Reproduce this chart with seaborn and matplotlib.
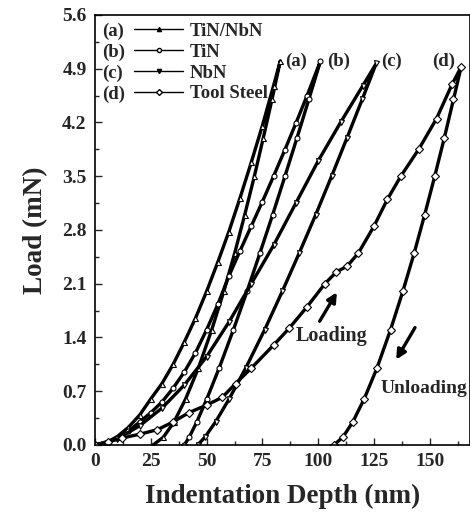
import pandas as pd
import matplotlib
matplotlib.use("Agg")
import matplotlib.pyplot as plt
import seaborn as sns
from matplotlib.lines import Line2D
from matplotlib.ticker import MultipleLocator

# Estilo limpo
sns.set_theme(style="ticks")
plt.rcParams['font.family'] = ['Liberation Serif', 'DejaVu Serif']
plt.rcParams['font.weight'] = 'bold'

# --- Dados (profundidade em nm, carga em mN) ---
tags = ['(a)', '(b)', '(c)', '(d)']
samples = ['TiN/NbN', 'TiN', 'NbN', 'Tool Steel']
markers = ['^', 'o', 'v', 'D']

# (a) TiN/NbN
a_load_depth = [0, 5, 10, 15, 20, 25, 30, 35, 40, 45, 50, 55, 60, 65, 70, 75, 80, 83]
a_load_force = [0.0, 0.03, 0.11, 0.23, 0.39, 0.6, 0.8, 1.05, 1.34, 1.65, 2.0, 2.38, 2.78, 3.22, 3.68, 4.16, 4.68, 5.0]
a_unload_depth = [83, 79.3, 75.4, 71.4, 67.1, 62.6, 57.7, 52.3, 46.3, 40.6, 35.4, 30.6, 26]
a_unload_force = [5.0, 4.5, 4.0, 3.5, 3.0, 2.5, 2.0, 1.5, 1.0, 0.6, 0.3, 0.1, 0.0]

# (b) TiN
b_load_depth = [0, 5, 10, 15, 20, 25, 30, 35, 40, 45, 50, 55, 60, 65, 70, 75, 80, 85, 90, 95, 101]
b_load_force = [0.0, 0.03, 0.09, 0.18, 0.3, 0.42, 0.56, 0.74, 0.95, 1.2, 1.5, 1.83, 2.2, 2.53, 2.85, 3.17, 3.5, 3.84, 4.19, 4.55, 5.0]
b_unload_depth = [101, 95.8, 90.5, 85.1, 79.6, 73.9, 68.1, 62.0, 55.6, 50.1, 45.6, 42.2, 40]
b_unload_force = [5.0, 4.5, 4.0, 3.5, 3.0, 2.5, 2.0, 1.5, 1.0, 0.6, 0.3, 0.1, 0.0]

# (c) NbN
c_load_depth = [0, 10, 20, 30, 40, 50, 60, 70, 80, 90, 100, 110, 120, 126]
c_load_force = [0.0, 0.08, 0.25, 0.48, 0.78, 1.15, 1.6, 2.1, 2.6, 3.15, 3.7, 4.2, 4.68, 4.97]
c_unload_depth = [126, 119.7, 112.9, 106.0, 98.9, 91.5, 83.9, 76.0, 67.5, 60.1, 54.0, 49.2, 46]
c_unload_force = [4.97, 4.5, 4.0, 3.5, 3.0, 2.5, 2.0, 1.5, 1.0, 0.6, 0.3, 0.1, 0.0]

# (d) Tool Steel
d_load_depth = [0, 6, 12, 20, 28, 35, 42, 50, 57, 63, 70, 80, 87, 95, 103, 108, 113, 118, 125, 131, 137, 145, 153, 160, 164]
d_load_force = [0.0, 0.04, 0.09, 0.14, 0.2, 0.3, 0.42, 0.52, 0.62, 0.8, 1.0, 1.3, 1.52, 1.8, 2.1, 2.25, 2.33, 2.5, 2.85, 3.2, 3.5, 3.85, 4.25, 4.7, 4.92]
d_unload_depth = [164, 160.6, 156.5, 152.2, 147.7, 143.0, 137.9, 132.4, 126.3, 120.6, 115.5, 111.0, 107]
d_unload_force = [4.92, 4.5, 4.0, 3.5, 3.0, 2.5, 2.0, 1.5, 1.0, 0.6, 0.3, 0.1, 0.0]

curves = [
    (a_load_depth, a_load_force, a_unload_depth, a_unload_force),
    (b_load_depth, b_load_force, b_unload_depth, b_unload_force),
    (c_load_depth, c_load_force, c_unload_depth, c_unload_force),
    (d_load_depth, d_load_force, d_unload_depth, d_unload_force),
]

# Tabela longa: carga seguida de descarga, na ordem de aquisicao
rows = []
for name, (ld, lf, ud, uf) in zip(samples, curves):
    depth = ld + ud[1:]
    force = lf + uf[1:]
    for i, (h, p) in enumerate(zip(depth, force)):
        rows.append({'sample': name, 'step': i, 'depth': h, 'load': p})
df = pd.DataFrame(rows)

# Figura
fig = plt.figure(figsize=(4.70, 5.17), dpi=100)
ax = fig.add_axes([0.2021, 0.1393, 0.7979, 0.8317])

for name, mk in zip(samples, markers):
    sub = df[df['sample'] == name]
    sns.lineplot(data=sub, x='depth', y='load', sort=False, estimator=None,
                 color='black', lw=2.4, marker=mk, markersize=3.6,
                 markerfacecolor='white', markeredgecolor='black',
                 markeredgewidth=0.8, legend=False, ax=ax)

# Eixos
ax.set_xlim(0, 168)
ax.set_ylim(0, 5.6)
ax.xaxis.set_major_locator(MultipleLocator(25))
ax.xaxis.set_minor_locator(MultipleLocator(12.5))
ax.yaxis.set_major_locator(MultipleLocator(0.7))
ax.yaxis.set_minor_locator(MultipleLocator(0.35))
ax.yaxis.set_major_formatter(plt.FormatStrFormatter('%.1f'))
ax.tick_params(which='both', direction='in', top=False, right=False, width=1.0)
ax.tick_params(which='major', length=5, labelsize=14, pad=6)
ax.tick_params(which='minor', length=3)
for lab in ax.get_xticklabels() + ax.get_yticklabels():
    lab.set_fontweight('bold')
for s in ax.spines.values():
    s.set_linewidth(1.2)
    s.set_color('black')

ax.set_xlabel('Indentation Depth (nm)', fontsize=19.5, fontweight='bold', labelpad=10)
ax.set_ylabel('Load (mN)', fontsize=19.5, fontweight='bold', labelpad=10)

# Rotulos das curvas
for tag, xp, yp in zip(tags, [90, 109, 133, 156], [5.0, 5.0, 5.0, 4.99]):
    ax.text(xp, yp, tag, ha='center', va='center', fontsize=13.5, fontweight='bold')

# Setas de carga / descarga
arrow = dict(arrowstyle='-|>', color='black', lw=2.4, mutation_scale=14)
ax.annotate('', xy=(109, 2.02), xytext=(100, 1.58), arrowprops=arrow)
ax.annotate('', xy=(134.3, 1.08), xytext=(144, 1.56), arrowprops=arrow)
ax.text(106, 1.42, 'Loading', ha='center', va='center', fontsize=14.5, fontweight='bold')
ax.text(128, 0.73, 'Unloading', ha='left', va='center', fontsize=14, fontweight='bold')

# Legenda: "(a)" a esquerda, linha + nome a direita
blank = [Line2D([], [], linestyle='none') for _ in tags]
leg1 = ax.legend(blank, tags, loc='upper left', bbox_to_anchor=(0.018, 0.982),
                 frameon=False, handlelength=0, handletextpad=0, fontsize=13.5,
                 labelspacing=0.2, borderpad=0, borderaxespad=0)
ax.add_artist(leg1)
handles = [Line2D([], [], color='black', lw=1.0, marker=mk, markersize=3,
                  markerfacecolor='white' if mk in ('o', 'D') else 'black',
                  markeredgecolor='black') for mk in markers]
ax.legend(handles, samples, loc='upper left', bbox_to_anchor=(0.105, 0.982),
          frameon=False, handlelength=2.6, handletextpad=0.35, fontsize=13.5,
          labelspacing=0.2, borderpad=0, borderaxespad=0)

plt.savefig('out.png', dpi=100)
